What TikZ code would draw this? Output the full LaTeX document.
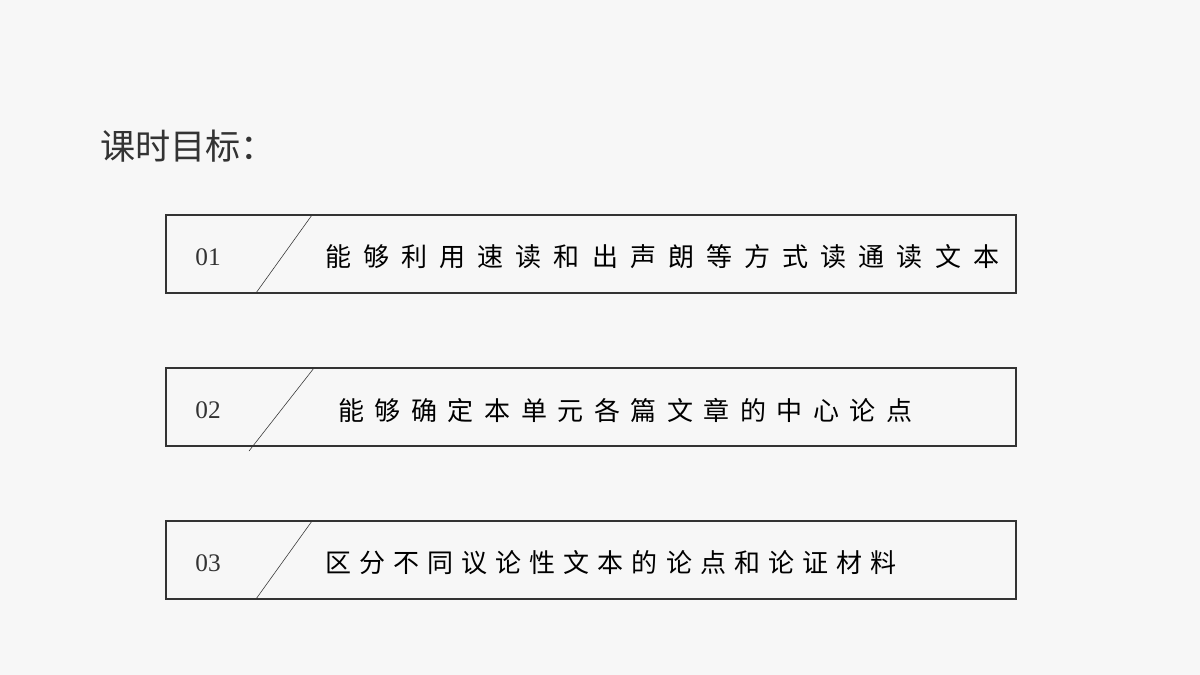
\documentclass[tikz,border=0pt]{standalone}
\usepackage{fontspec}
\newfontfamily\cjk{Noto Sans CJK SC}
\newfontfamily\cjkone[LetterSpace=46.5]{Noto Sans CJK SC}
\newfontfamily\cjktwo[LetterSpace=40.5]{Noto Sans CJK SC}
\newfontfamily\cjkthree[LetterSpace=31]{Noto Sans CJK SC}
\setmainfont{Liberation Serif}
\definecolor{paper}{HTML}{F7F7F7}
\definecolor{ink}{HTML}{333333}
\begin{document}
\begin{tikzpicture}[x=0.025cm,y=-0.025cm,
  goalbox/.style={draw=ink, line width=0.8pt},
  goalnum/.style={anchor=center, text=ink, font=\fontsize{18pt}{18pt}\selectfont},
  goaltext/.style={anchor=west, text=black, inner sep=0pt}]
\fill[paper] (0,0) rectangle (1200,675);
\useasboundingbox (0,0) rectangle (1200,675);
\node[anchor=west, inner sep=0pt, font=\cjk\fontsize{25pt}{25pt}\selectfont, text=ink] (title) at (100,146) {课时目标：};
% item 1
\draw[goalbox] (166,215) rectangle (1016,293);
\node[goalnum] (n1) at (208,257) {01};
\draw[ink, thin] (312,215) -- (256,293);
\node[goaltext, font=\cjkone\fontsize{18.5pt}{18.5pt}\selectfont] (t1) at (325,257) {能够利用速读和出声朗等方式读通读文本};
% item 2
\draw[goalbox] (166,368) rectangle (1016,446);
\node[goalnum] (n2) at (208,410) {02};
\draw[ink, thin] (314,368) -- (249,451);
\node[goaltext, font=\cjktwo\fontsize{18.5pt}{18.5pt}\selectfont] (t2) at (338,410) {能够确定本单元各篇文章的中心论点};
% item 3
\draw[goalbox] (166,521) rectangle (1016,599);
\node[goalnum] (n3) at (208,563) {03};
\draw[ink, thin] (312,521) -- (256,599);
\node[goaltext, font=\cjkthree\fontsize{18.5pt}{18.5pt}\selectfont] (t3) at (325,563) {区分不同议论性文本的论点和论证材料};
\end{tikzpicture}
\end{document}
